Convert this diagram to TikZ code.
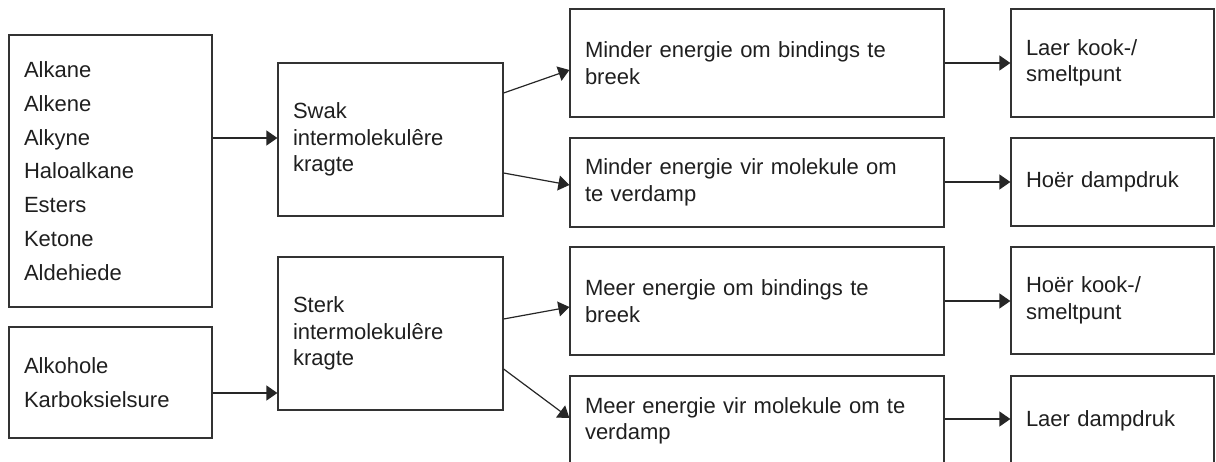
\documentclass[tikz,border=0pt]{standalone}
\usepackage{fontspec}
\setmainfont{Liberation Sans}
\usetikzlibrary{arrows.meta,calc}
\begin{document}
\begin{tikzpicture}[x=1pt,y=-1pt,
  box/.style={draw=black!80, line width=1.2pt, inner xsep=15pt, inner ysep=0pt,
    align=left, text=black!88, font=\fontsize{22pt}{26.5pt}\selectfont},
  listbox/.style={box, font=\fontsize{22pt}{33.8pt}\selectfont},
  conn/.style={draw=black!85, line width=1.2pt, -{Triangle[length=11pt,width=15pt]}}]
\useasboundingbox (0,0) rectangle (1216,461);
\clip (0,0) rectangle (1216,461);
% left column
\node[listbox, text width=173pt, minimum height=272pt] (A) at (110.5,171)
  {Alkane\\Alkene\\Alkyne\\Haloalkane\\Esters\\Ketone\\Aldehiede};
\node[listbox, text width=173pt, minimum height=111pt] (B) at (110.5,382.5)
  {Alkohole\\Karboksielsure};
% second column
\node[box, text width=195pt, minimum height=153pt] (S1) at (390.5,139.5)
  {Swak\\intermolekulêre\\kragte};
\node[box, text width=195pt, minimum height=153pt] (S2) at (390.5,333.5)
  {Sterk\\intermolekulêre\\kragte};
% third column
\node[box, text width=344pt, minimum height=108pt] (M1) at (757,63)
  {Minder energie om bindings te\\breek};
\node[box, text width=344pt, minimum height=89pt] (M2) at (757,182.5)
  {Minder energie vir molekule om\\te verdamp};
\node[box, text width=344pt, minimum height=108pt] (M3) at (757,301)
  {Meer energie om bindings te\\breek};
\node[box, text width=344pt, minimum height=90pt] (M4) at (757,421)
  {Meer energie vir molekule om te\\verdamp};
% fourth column
\node[box, text width=173pt, minimum height=108pt] (R1) at (1112.5,63)
  {Laer kook-/\\smeltpunt};
\node[box, text width=173pt, minimum height=88pt] (R2) at (1112.5,182)
  {Hoër dampdruk};
\node[box, text width=173pt, minimum height=107pt] (R3) at (1112.5,300.5)
  {Hoër kook-/\\smeltpunt};
\node[box, text width=173pt, minimum height=90pt] (R4) at (1112.5,421)
  {Laer dampdruk};
% connectors
\coordinate (aS) at ($(S1.west)+(0,-1.5)$);
\draw[conn] (aS -| A.east) -- (aS);
\coordinate (bS) at ($(B.east)+(0,10.5)$);
\draw[conn] (bS) -- (bS -| S2.west);
\draw[conn] ($(S1.east)+(0,-46.5)$) -- ($(M1.west)+(0,7)$);
\draw[conn] ($(S1.east)+(0,33.5)$) -- ($(M2.west)+(0,2.5)$);
\draw[conn] ($(S2.east)+(0,-14.5)$) -- ($(M3.west)+(0,6)$);
\draw[conn] ($(S2.east)+(0,35.5)$) -- ($(M4.west)+(0,-3)$);
\draw[conn] (M1.east) -- (R1.west);
\coordinate (m2r) at ($(M2.east)+(0,-0.5)$);
\draw[conn] (m2r) -- (m2r -| R2.west);
\draw[conn] (M3.east) -- (M3.east -| R3.west);
\draw[conn] ($(M4.east)+(0,-2)$) -- ($(R4.west)+(0,-2)$);
\end{tikzpicture}
\end{document}
